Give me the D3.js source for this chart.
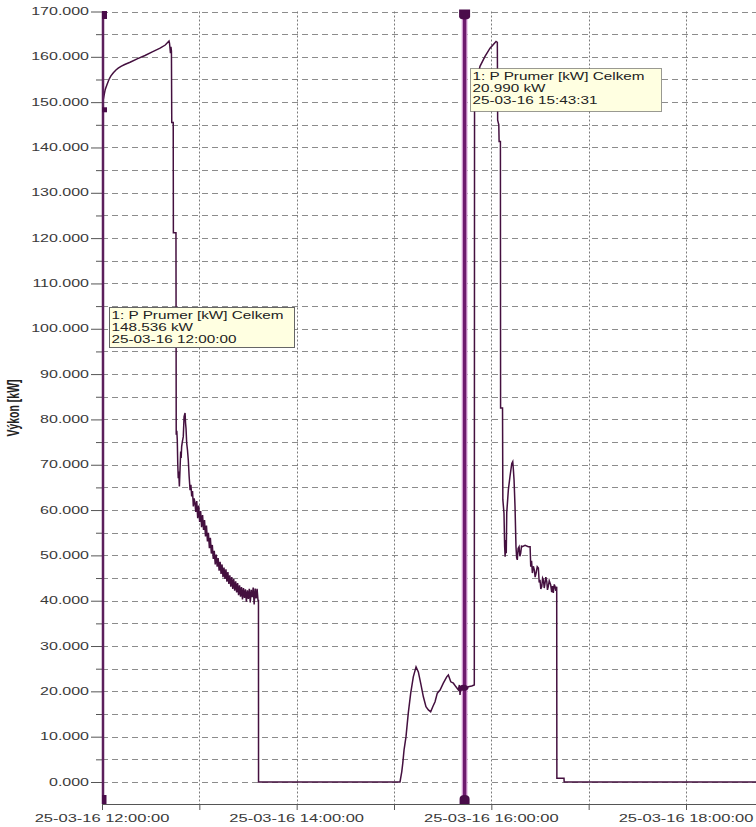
<!DOCTYPE html>
<html>
<head>
<meta charset="utf-8">
<script src="https://cdn.jsdelivr.net/npm/d3@7"></script>
<style>
  html, body { margin: 0; padding: 0; background: #ffffff; }
  svg { display: block; }
  text { font-family: "Liberation Sans", Arial, sans-serif; }
</style>
</head>
<body>
<svg id="chart" width="756" height="827"></svg>
<script>
// ---------------- DATA ----------------
const startTime = "2016-03-25 12:00:00";
// minutes after 12:00:00
const minutes = [
  0, 0.6, 1.2, 2.0, 3.1, 4.3, 5.5, 7.0, 8.6, 10.0, 11.7, 14.0, 17.3, 22.0, 26.5, 31.0, 35.8, 39.0, 41.3,
  41.6, 41.9, 42.2, 42.5, 42.8, 43.0, 43.9, 44.0, 45.6, 45.75, 46.1, 46.4, 46.7, 47.0, 47.3, 47.7, 48.1,
  48.5, 48.8, 49.1, 49.6, 50.1, 50.6, 51.2, 51.5, 51.8, 52.2, 52.7, 53.2, 53.7, 54.3, 54.8, 55.3, 55.8,
  56.3, 56.8, 57.3, 57.8, 58.1,
  58.4, 59.0, 59.6, 60.2, 60.8, 61.4, 62.0, 62.6, 63.2, 63.8, 64.4, 65.0, 65.6, 66.2, 66.8, 67.4, 68.0,
  68.6, 69.2, 69.8, 70.4, 71.0, 71.6, 72.2, 72.8, 73.4, 74.0, 74.6, 75.2, 75.8, 76.4, 77.0, 77.6, 78.2,
  78.8, 79.4, 80.0, 80.6, 81.2, 81.8, 82.4, 83.0, 83.6, 84.2, 84.8, 85.4, 86.0, 86.6, 87.2, 87.8, 88.4,
  89.0, 89.6, 90.2, 90.8, 91.4, 92.0, 92.6, 93.2, 93.8, 94.4, 95.0, 95.6, 96.2, 96.45, 96.5,
  183.7, 184.8, 185.4, 186.2, 187.4, 188.8, 190.3, 191.9, 193.6, 195.0, 196.5, 198.1, 199.7, 201.2,
  202.6, 203.9, 205.3, 206.7, 208.4, 210.4, 212.5, 213.5, 215.0, 216.6, 218.2, 219.7, 220.3, 220.7,
  221.2, 221.8, 222.4, 223.0, 223.5, 224.2, 225.8, 227.9, 229.5, 229.65, 230.6, 233.0, 236.1, 239.2,
  242.9, 243.7, 243.9, 244.6, 244.8, 245.6, 245.7, 246.9, 247.1, 247.8, 248.2, 248.5, 248.9, 249.2,
  249.5, 250.5, 251.5, 252.6, 253.2, 253.6, 254.0, 254.6, 255.2, 255.6, 256.0, 256.5, 257.1, 257.6,
  258.1, 258.6, 259.1, 260.8, 262.8, 263.9, 264.3, 264.8, 265.3, 265.9, 266.5, 267.0, 267.6, 268.3,
  269.0, 269.5, 270.0, 270.5, 271.1, 271.6, 272.1, 272.6, 273.1, 273.6, 274.2, 274.6, 275.1, 275.7,
  276.6, 277.2, 277.7, 278.2, 278.8, 279.3, 279.8, 280.3, 280.4, 284.8, 284.9, 410
];
// P Prumer [kW] Celkem
const kw = [
  148.5, 150.2, 151.4, 152.8, 153.9, 155.0, 155.8, 156.5, 157.1, 157.5, 157.9, 158.3, 158.8, 159.6, 160.3, 161.1, 161.9, 162.6, 163.5,
  163.0, 162.0, 160.8, 162.2, 161.3, 145.5, 145.5, 121.2, 121.2, 76.6, 77.5, 75.5, 70.2, 67.0, 68.5, 65.2, 69.0,
  72.9, 71.5, 74.0, 75.2, 76.2, 80.6, 81.4, 79.2, 78.0, 74.8, 73.2, 71.0, 67.5, 64.4, 65.6, 63.0, 64.2,
  60.8, 62.6, 61.6, 59.6, 61.2,
  62.0, 58.2, 61.0, 57.4, 59.8, 56.2, 58.9, 55.6, 57.8, 54.2, 56.6, 53.1, 55.0, 51.6, 53.9, 50.4, 52.3,
  49.2, 51.0, 48.0, 50.2, 47.5, 49.4, 46.6, 48.6, 45.9, 48.0, 45.2, 47.3, 44.8, 46.9, 44.2, 46.3, 43.7,
  45.6, 43.1, 45.2, 42.6, 44.8, 42.2, 44.3, 41.8, 43.9, 41.2, 43.4, 40.9, 43.0, 40.3, 42.8, 40.6, 42.5,
  39.8, 42.3, 40.4, 42.6, 39.6, 42.4, 40.8, 42.9, 39.2, 42.7, 40.5, 42.6, 39.9, 40.2, 0,
  0, 2.3, 4.1, 7.1, 10.0, 15.2, 19.6, 23.2, 25.4, 24.3, 21.7, 18.8, 16.6, 15.9,
  15.5, 16.6, 17.7, 19.6, 20.3, 21.8, 23.2, 23.6, 22.1, 21.8, 21.0, 20.3, 21.4, 19.2,
  20.9, 20.0, 21.3, 20.6, 20.99, 21.0, 21.0, 21.2, 21.4, 150.0, 154.0, 157.9, 160.1, 161.9,
  163.4, 163.2, 146.0, 145.0, 141.3, 141.3, 82.5, 82.5, 62.3, 59.3, 52.0, 49.7, 53.4, 50.5,
  59.4, 64.5, 67.4, 70.3, 70.7, 68.9, 66.7, 60.8, 51.9, 49.5, 49.0, 51.5, 51.9, 49.8,
  50.5, 52.0, 51.9, 52.2, 51.9, 51.9, 47.5, 48.8, 46.1, 47.6, 46.8, 45.2, 46.1, 47.5,
  47.2, 44.0, 44.6, 42.6, 43.1, 45.0, 44.6, 42.8, 43.9, 45.2, 44.2, 42.4, 43.1, 44.4,
  43.5, 41.9, 43.2, 41.7, 43.6, 43.1, 42.2, 43.1, 0.8, 0.8, 0, 0
];

const yMajorTicks = [0, 10, 20, 30, 40, 50, 60, 70, 80, 90, 100, 110, 120, 130, 140, 150, 160, 170];
const yMinorTicks = [5, 15, 25, 35, 45, 55, 65, 75, 85, 95, 105, 115, 125, 135, 145, 155, 165];
const xTickTimes = ["2016-03-25 12:00:00", "2016-03-25 13:00:00", "2016-03-25 14:00:00", "2016-03-25 15:00:00",
                    "2016-03-25 16:00:00", "2016-03-25 17:00:00", "2016-03-25 18:00:00", "2016-03-25 19:00:00"];
const xLabelTimes = ["2016-03-25 12:00:00", "2016-03-25 14:00:00", "2016-03-25 16:00:00", "2016-03-25 18:00:00"];
const xLabels = ["25-03-16 12:00:00", "25-03-16 14:00:00", "25-03-16 16:00:00", "25-03-16 18:00:00"];

const cursorTimes = ["2016-03-25 12:00:00", "2016-03-25 15:43:31"];
const cursorValues = [148.536, 20.990];
const tipTitle = ["1: P Prumer [kW] Celkem", "1: P Prumer [kW] Celkem"];
const tipValue = ["148.536 kW", "20.990 kW"];
const tipTime = ["25-03-16 12:00:00", "25-03-16 15:43:31"];
const yTitle = "Výkon [kW]";

// ---------------- SCALES ----------------
const parse = d3.timeParse("%Y-%m-%d %H:%M:%S");
const t0 = parse(startTime);
const data = minutes.map((m, i) => ({ t: new Date(t0.getTime() + m * 60000), v: kw[i] }));

const x = d3.scaleTime()
  .domain([parse("2016-03-25 12:00:00"), parse("2016-03-25 18:00:00")])
  .range([102, 686]);
const y = d3.scaleLinear().domain([0, 170]).range([782, 11.5]);

const plotLeft = 102, plotRight = 760, plotTop = y(170), plotBottom = 804;

const svg = d3.select("#chart");

// ---------------- GRID ----------------
const grid = svg.append("g");
grid.selectAll("line.h")
  .data(yMajorTicks.concat(yMinorTicks))
  .join("line")
  .attr("x1", plotLeft).attr("x2", plotRight)
  .attr("y1", d => Math.round(y(d)) + 0.5).attr("y2", d => Math.round(y(d)) + 0.5)
  .attr("stroke", "#8c8c8c").attr("stroke-width", 1)
  .attr("stroke-dasharray", "6,4");

grid.selectAll("line.v")
  .data(xTickTimes.slice(1).map(parse))
  .join("line")
  .attr("x1", d => Math.round(x(d)) + 0.5).attr("x2", d => Math.round(x(d)) + 0.5)
  .attr("y1", plotTop).attr("y2", plotBottom)
  .attr("stroke", "#7a7a7a").attr("stroke-width", 1)
  .attr("stroke-dasharray", "2,2");

// ---------------- AXES ----------------
const yAxis = d3.axisLeft(y)
  .tickValues(yMajorTicks.concat(yMinorTicks))
  .tickSize(11)
  .tickFormat("");
const yg = svg.append("g").attr("transform", `translate(${plotLeft},0)`).call(yAxis);
yg.select(".domain").attr("stroke", "#555").attr("d", `M0.5,${plotTop}V${plotBottom}`);
yg.selectAll(".tick line")
  .attr("stroke", "#555")
  .attr("x2", d => (d % 10 === 0 ? -11 : -6));

const xAxis = d3.axisBottom(x)
  .tickValues(xTickTimes.map(parse))
  .tickSize(6)
  .tickSizeOuter(0)
  .tickFormat("");
const xg = svg.append("g").attr("transform", `translate(0,${plotBottom})`).call(xAxis);
xg.select(".domain").attr("stroke", "#555").attr("d", `M${plotLeft},0.5H${plotRight}`);
xg.selectAll(".tick line").attr("stroke", "#555");

// y tick labels (screen image is horizontally stretched)
svg.append("g").selectAll("text")
  .data(yMajorTicks)
  .join("text")
  .attr("transform", d => `translate(89,${y(d) + 3.6}) scale(1.6,1)`)
  .attr("text-anchor", "end")
  .attr("font-size", 10)
  .attr("fill", "#3a3a3a")
  .text(d => d3.format(".3f")(d));

// x tick labels
svg.append("g").selectAll("text")
  .data(xLabelTimes.map((s, i) => ({ t: parse(s), label: xLabels[i] })))
  .join("text")
  .attr("transform", d => `translate(${x(d.t)},822) scale(1.65,1)`)
  .attr("text-anchor", "middle")
  .attr("font-size", 10)
  .attr("fill", "#3a3a3a")
  .text(d => d.label);

// y title
svg.append("text")
  .attr("transform", "translate(19,408) scale(1.5,1) rotate(-90)")
  .attr("text-anchor", "middle")
  .attr("font-size", 10.5)
  .attr("font-weight", "bold")
  .attr("fill", "#222")
  .text(yTitle);

// ---------------- SERIES ----------------
svg.append("clipPath").attr("id", "clip")
  .append("rect").attr("x", plotLeft).attr("y", plotTop - 2)
  .attr("width", plotRight - plotLeft).attr("height", plotBottom - plotTop + 2);

const line = d3.line().x(d => x(d.t)).y(d => y(d.v));
svg.append("path")
  .datum(data)
  .attr("clip-path", "url(#clip)")
  .attr("fill", "none")
  .attr("stroke", "#44103f")
  .attr("stroke-width", 1.5)
  .attr("stroke-linejoin", "miter")
  .attr("d", line);

// ---------------- CURSORS ----------------
const cur = cursorTimes.map((s, i) => ({ t: parse(s), v: cursorValues[i] }));

// cursor 1 (at 12:00, on the axis)
const c1x = x(cur[0].t);
svg.append("line")
  .attr("x1", c1x + 1).attr("x2", c1x + 1)
  .attr("y1", plotTop).attr("y2", plotBottom)
  .attr("stroke", "#5c1f5c").attr("stroke-width", 2.5);
svg.append("rect").attr("x", c1x).attr("y", plotTop - 0.5).attr("width", 5).attr("height", 8)
  .attr("fill", "#4a0c4a");
svg.append("rect").attr("x", c1x).attr("y", plotBottom - 9).attr("width", 4.5).attr("height", 9)
  .attr("fill", "#4a0c4a");
svg.append("rect").attr("x", c1x).attr("y", y(cur[0].v) - 1.5).attr("width", 5).attr("height", 5)
  .attr("fill", "#4a0c4a");

// cursor 2
const c2x = x(cur[1].t);
svg.append("line")
  .attr("x1", c2x).attr("x2", c2x)
  .attr("y1", plotTop).attr("y2", plotBottom)
  .attr("stroke", "#e3b4e3").attr("stroke-width", 6);
svg.append("line")
  .attr("x1", c2x).attr("x2", c2x)
  .attr("y1", plotTop).attr("y2", plotBottom)
  .attr("stroke", "#6e1a6e").attr("stroke-width", 3.5);
svg.append("path")
  .attr("d", `M${c2x - 5.5},${plotTop - 2}H${c2x + 5.5}V${plotTop + 5}Q${c2x + 5.5},${plotTop + 8} ${c2x},${plotTop + 8}Q${c2x - 5.5},${plotTop + 8} ${c2x - 5.5},${plotTop + 5}Z`)
  .attr("fill", "#4a0c4a");
svg.append("path")
  .attr("d", `M${c2x - 5},${plotBottom}V${plotBottom - 5}Q${c2x - 5},${plotBottom - 9} ${c2x},${plotBottom - 9}Q${c2x + 5},${plotBottom - 9} ${c2x + 5},${plotBottom - 5}V${plotBottom}Z`)
  .attr("fill", "#4a0c4a");
svg.append("ellipse")
  .attr("cx", c2x - 1).attr("cy", y(cur[1].v) + 1).attr("rx", 5).attr("ry", 3)
  .attr("fill", "#4a0c4a");

// ---------------- TOOLTIPS ----------------
function tooltip(bx, by, bw, bh, i, dotted) {
  const g = svg.append("g");
  g.append("rect")
    .attr("x", bx + 0.5).attr("y", by + 0.5).attr("width", bw).attr("height", bh)
    .attr("fill", "#ffffe1")
    .attr("stroke", dotted ? "#333" : "#666")
    .attr("stroke-width", 1)
    .attr("stroke-dasharray", dotted ? "1,1" : null);
  const lines = [tipTitle[i], tipValue[i], tipTime[i]];
  g.selectAll("text")
    .data(lines)
    .join("text")
    .attr("transform", (d, k) => `translate(${bx + 2.5},${by + 12 + k * 12}) scale(1.53,1)`)
    .attr("font-size", 10)
    .attr("fill", "#222")
    .text(d => d);
}
tooltip(109, 307, 185, 40, 0, false);
tooltip(470, 68, 191, 43, 1, true);
</script>
</body>
</html>
